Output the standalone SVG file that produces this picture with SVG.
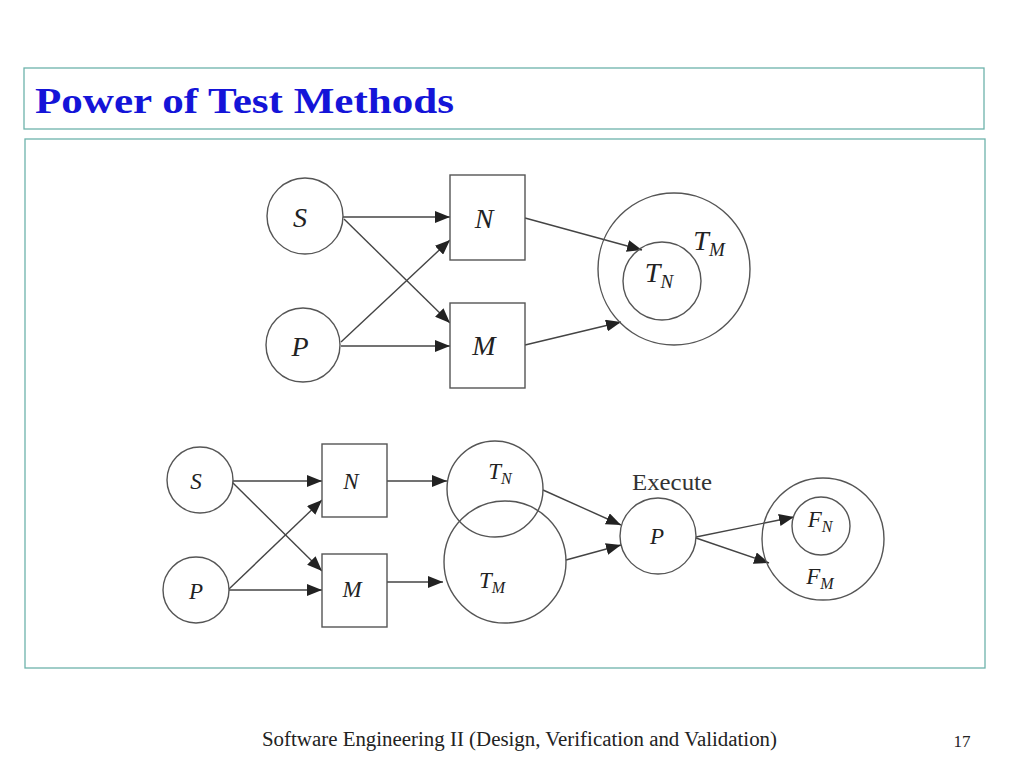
<svg xmlns="http://www.w3.org/2000/svg" width="1024" height="768" viewBox="0 0 1024 768">
<style>
.frame{fill:#fff;stroke:#6db3ab;stroke-width:1.3}
.nd{fill:#fff;stroke:#555;stroke-width:1.4}
.ring{fill:none;stroke:#555;stroke-width:1.4}
.lbl{font-family:"Liberation Serif",serif;font-style:italic;fill:#222;text-anchor:middle}
.big{font-size:28px}
.sm{font-size:23px}
.ed{stroke:#444;stroke-width:1.4;fill:none;marker-end:url(#ah)}
</style>
<defs>
<marker id="ah" viewBox="0 0 15 12" refX="15" refY="6" markerWidth="15" markerHeight="12" markerUnits="userSpaceOnUse" orient="auto">
<path d="M0,0 L15,6 L0,12 Z" fill="#222"/>
</marker>
</defs>
<rect width="1024" height="768" fill="#fff"/>
<rect class="frame" x="24" y="68" width="960" height="61"/>
<text x="35" y="113" font-family="Liberation Serif,serif" font-weight="bold" font-size="36" fill="#1414d8" textLength="419" lengthAdjust="spacingAndGlyphs">Power of Test Methods</text>
<rect class="frame" x="25" y="139" width="960" height="529"/>

<g id="connectors">
<line class="ed" x1="343" y1="217" x2="450" y2="217"/>
<line class="ed" x1="344" y1="219" x2="450" y2="323"/>
<line class="ed" x1="341" y1="342" x2="450" y2="240"/>
<line class="ed" x1="341" y1="346" x2="450" y2="346"/>
<line class="ed" x1="525" y1="218" x2="642" y2="250"/>
<line class="ed" x1="525" y1="345" x2="621" y2="322"/>

<line class="ed" x1="232" y1="481" x2="322" y2="481"/>
<line class="ed" x1="232" y1="482" x2="322" y2="571"/>
<line class="ed" x1="229" y1="589" x2="322" y2="500"/>
<line class="ed" x1="229" y1="590" x2="322" y2="590"/>
<line class="ed" x1="387" y1="481" x2="447" y2="481"/>
<line class="ed" x1="387" y1="582" x2="443" y2="582"/>
<line class="ed" x1="543" y1="490" x2="621" y2="525"/>
<line class="ed" x1="566" y1="560" x2="621" y2="545"/>
<line class="ed" x1="696" y1="537" x2="794" y2="517"/>
<line class="ed" x1="696" y1="538" x2="769" y2="563"/>
</g>

<g id="top-S"><circle class="nd" cx="305" cy="216" r="38"/><text class="lbl big" x="300" y="227">S</text></g>
<g id="top-P"><circle class="nd" cx="303" cy="345" r="37"/><text class="lbl big" x="300" y="356">P</text></g>
<g id="top-N"><rect class="nd" x="450" y="175" width="75" height="85"/><text class="lbl big" x="484" y="228">N</text></g>
<g id="top-M"><rect class="nd" x="450" y="303" width="75" height="85"/><text class="lbl big" x="484" y="355">M</text></g>
<g id="top-TM"><circle class="ring" cx="674" cy="269" r="76"/><text class="lbl big" x="709" y="250">T<tspan font-size="19" dy="6">M</tspan></text></g>
<g id="top-TN"><circle class="ring" cx="662" cy="281" r="39"/><text class="lbl big" x="659" y="282">T<tspan font-size="19" dy="6">N</tspan></text></g>

<g id="bot-S"><circle class="nd" cx="200" cy="480" r="33"/><text class="lbl sm" x="196" y="489">S</text></g>
<g id="bot-P"><circle class="nd" cx="196" cy="590" r="33"/><text class="lbl sm" x="196" y="599">P</text></g>
<g id="bot-N"><rect class="nd" x="322" y="444" width="65" height="73"/><text class="lbl sm" x="351" y="489">N</text></g>
<g id="bot-M"><rect class="nd" x="322" y="554" width="65" height="73"/><text class="lbl sm" x="352" y="597">M</text></g>
<g id="bot-TM"><circle class="ring" cx="505" cy="562" r="61"/><text class="lbl sm" x="492" y="588">T<tspan font-size="16" dy="5">M</tspan></text></g>
<g id="bot-TN"><circle class="ring" cx="495" cy="489" r="48"/><text class="lbl sm" x="500" y="479">T<tspan font-size="16" dy="5">N</tspan></text></g>
<g id="bot-P2"><circle class="nd" cx="658" cy="536" r="38"/><text class="lbl sm" x="657" y="544">P</text>
<text x="672" y="490" font-family="Liberation Serif,serif" font-size="23" fill="#333" text-anchor="middle" textLength="80" lengthAdjust="spacingAndGlyphs">Execute</text></g>
<g id="bot-FM"><circle class="ring" cx="823" cy="539" r="61"/><text class="lbl sm" x="820" y="584">F<tspan font-size="16" dy="5">M</tspan></text></g>
<g id="bot-FN"><circle class="ring" cx="821" cy="526" r="29"/><text class="lbl sm" x="820" y="527">F<tspan font-size="16" dy="5">N</tspan></text></g>

<text x="262" y="746" font-family="Liberation Serif,serif" font-size="20" fill="#222" textLength="515" lengthAdjust="spacingAndGlyphs">Software Engineering II (Design, Verification and Validation)</text>
<text x="962" y="747" font-family="Liberation Serif,serif" font-size="17" fill="#222" text-anchor="middle">17</text>
</svg>
